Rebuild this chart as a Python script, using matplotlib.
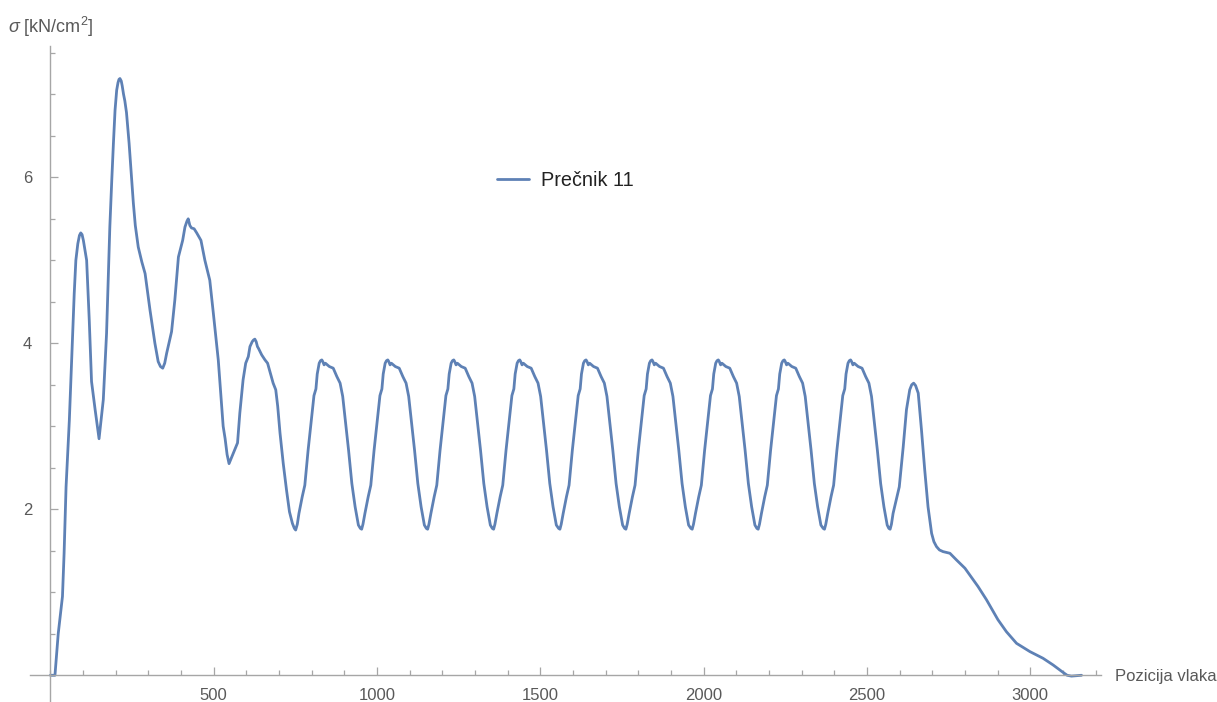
import matplotlib
matplotlib.use("Agg")
import matplotlib.pyplot as plt
from matplotlib.ticker import MultipleLocator, FixedLocator

plt.rcParams['font.family'] = ['Liberation Sans', 'DejaVu Sans']
plt.rcParams['mathtext.fontset'] = 'custom'
plt.rcParams['mathtext.rm'] = 'Liberation Sans'
plt.rcParams['mathtext.it'] = 'Liberation Sans:italic'

# Stress along the train position
pozicija = [
    0, 14, 24, 37, 42, 48, 53, 58, 67, 73, 78, 84, 89, 93, 97, 101, 111, 119, 126, 137, 149,
    162, 172, 182, 188, 193, 198, 203, 207, 210, 213, 217, 220, 224, 228, 233, 241, 249, 254, 260, 269,
    280, 290, 305, 320, 330, 337, 344, 350, 356, 371, 381, 392, 405, 412, 418, 422, 427, 432, 440,
    448, 461, 473, 488, 499, 514, 529, 535, 541, 547, 560, 573, 580, 590, 598, 606, 611,
    618, 622, 626, 630, 634, 637, 647, 657, 665, 672, 682, 690, 696, 703, 713, 723, 732, 741,
    747, 751, 756, 761, 771, 779, 789, 800, 807, 813, 817, 823, 827, 831, 834, 838, 842, 854, 866, 877,
    887, 895, 902, 913, 923, 933, 943, 949,
    953, 957, 963, 973, 981, 991, 1002, 1009, 1015, 1019, 1025, 1029, 1033, 1036, 1040, 1044, 1056,
    1068, 1079, 1089, 1097, 1104, 1115, 1125, 1135, 1145, 1151,
    1155, 1159, 1165, 1175, 1183, 1193, 1204, 1211, 1217, 1221, 1227, 1231, 1235, 1238, 1242, 1246,
    1258, 1270, 1281, 1291, 1299, 1306, 1317, 1327, 1337, 1347, 1353,
    1357, 1361, 1367, 1377, 1385, 1395, 1406, 1413, 1419, 1423, 1429, 1433, 1437, 1440, 1444, 1448,
    1460, 1472, 1483, 1493, 1501, 1508, 1519, 1529, 1539, 1549, 1556,
    1560, 1564, 1570, 1580, 1588, 1598, 1609, 1616, 1622, 1626, 1632, 1636, 1640, 1643, 1647, 1651,
    1663, 1675, 1686, 1696, 1704, 1711, 1722, 1732, 1742, 1752, 1758,
    1762, 1766, 1772, 1782, 1790, 1800, 1811, 1818, 1824, 1828, 1834, 1838, 1842, 1845, 1849, 1853,
    1865, 1877, 1888, 1898, 1906, 1913, 1924, 1934, 1944, 1954, 1961,
    1965, 1969, 1975, 1985, 1993, 2003, 2014, 2021, 2027, 2031, 2037, 2041, 2045, 2048, 2052, 2056,
    2068, 2080, 2091, 2101, 2109, 2116, 2127, 2137, 2147, 2157, 2163,
    2167, 2171, 2177, 2187, 2195, 2205, 2216, 2223, 2229, 2233, 2239, 2243, 2247, 2250, 2254, 2258,
    2270, 2282, 2293, 2303, 2311, 2318, 2329, 2339, 2349, 2359, 2366,
    2370, 2374, 2380, 2390, 2398, 2408, 2419, 2426, 2432, 2436, 2442, 2446, 2450, 2453, 2457, 2461,
    2473, 2485, 2496, 2506, 2514, 2521, 2532, 2542, 2552, 2562, 2567,
    2571, 2575, 2580, 2599, 2611, 2621, 2631, 2637, 2643, 2649, 2657, 2667, 2677, 2687, 2698, 2705, 2713,
    2722, 2733, 2754, 2774, 2800, 2840, 2866, 2901, 2927, 2958, 2999, 3039, 3070, 3100,
    3113, 3126, 3157,
]
sigma = [
    0.00, 0.00, 0.50, 0.95, 1.47, 2.27, 2.67, 3.07, 4.00, 4.60, 5.00, 5.20, 5.30, 5.33, 5.31, 5.24, 5.00, 4.28, 3.54, 3.20, 2.85,
    3.32, 4.12, 5.40, 5.97, 6.41, 6.81, 7.05, 7.14, 7.18, 7.19, 7.16, 7.10, 7.00, 6.92, 6.78, 6.41, 5.97, 5.69, 5.42, 5.16,
    4.98, 4.84, 4.40, 4.00, 3.78, 3.72, 3.70, 3.76, 3.88, 4.14, 4.52, 5.04, 5.24, 5.40, 5.47, 5.50, 5.42, 5.39, 5.38,
    5.33, 5.24, 5.00, 4.76, 4.36, 3.80, 3.00, 2.85, 2.66, 2.55, 2.675, 2.80, 3.16, 3.56, 3.76, 3.84, 3.96,
    4.02, 4.04, 4.05, 4.02, 3.96, 3.94, 3.86, 3.80, 3.76, 3.66, 3.52, 3.44, 3.24, 2.92, 2.55, 2.23, 1.97, 1.83,
    1.77, 1.75, 1.82, 1.95, 2.15, 2.29, 2.71, 3.11, 3.37, 3.45, 3.63, 3.76, 3.79, 3.80, 3.78, 3.74, 3.76, 3.72, 3.70, 3.60,
    3.52, 3.36, 3.11, 2.71, 2.31, 2.03, 1.81, 1.77,
    1.76, 1.82, 1.95, 2.15, 2.29, 2.71, 3.11, 3.37, 3.45, 3.63, 3.76, 3.79, 3.80, 3.78, 3.74, 3.76, 3.72,
    3.70, 3.60, 3.52, 3.36, 3.11, 2.71, 2.31, 2.03, 1.81, 1.77,
    1.76, 1.82, 1.95, 2.15, 2.29, 2.71, 3.11, 3.37, 3.45, 3.63, 3.76, 3.79, 3.80, 3.78, 3.74, 3.76,
    3.72, 3.70, 3.60, 3.52, 3.36, 3.11, 2.71, 2.31, 2.03, 1.81, 1.77,
    1.76, 1.82, 1.95, 2.15, 2.29, 2.71, 3.11, 3.37, 3.45, 3.63, 3.76, 3.79, 3.80, 3.78, 3.74, 3.76,
    3.72, 3.70, 3.60, 3.52, 3.36, 3.11, 2.71, 2.31, 2.03, 1.81, 1.77,
    1.76, 1.82, 1.95, 2.15, 2.29, 2.71, 3.11, 3.37, 3.45, 3.63, 3.76, 3.79, 3.80, 3.78, 3.74, 3.76,
    3.72, 3.70, 3.60, 3.52, 3.36, 3.11, 2.71, 2.31, 2.03, 1.81, 1.77,
    1.76, 1.82, 1.95, 2.15, 2.29, 2.71, 3.11, 3.37, 3.45, 3.63, 3.76, 3.79, 3.80, 3.78, 3.74, 3.76,
    3.72, 3.70, 3.60, 3.52, 3.36, 3.11, 2.71, 2.31, 2.03, 1.81, 1.77,
    1.76, 1.82, 1.95, 2.15, 2.29, 2.71, 3.11, 3.37, 3.45, 3.63, 3.76, 3.79, 3.80, 3.78, 3.74, 3.76,
    3.72, 3.70, 3.60, 3.52, 3.36, 3.11, 2.71, 2.31, 2.03, 1.81, 1.77,
    1.76, 1.82, 1.95, 2.15, 2.29, 2.71, 3.11, 3.37, 3.45, 3.63, 3.76, 3.79, 3.80, 3.78, 3.74, 3.76,
    3.72, 3.70, 3.60, 3.52, 3.36, 3.11, 2.71, 2.31, 2.03, 1.81, 1.77,
    1.76, 1.82, 1.95, 2.15, 2.29, 2.71, 3.11, 3.37, 3.45, 3.63, 3.76, 3.79, 3.80, 3.78, 3.74, 3.76,
    3.72, 3.70, 3.60, 3.52, 3.36, 3.11, 2.71, 2.31, 2.03, 1.81, 1.77,
    1.76, 1.82, 1.95, 2.27, 2.75, 3.20, 3.44, 3.50, 3.52, 3.49, 3.40, 2.955, 2.47, 2.03, 1.71, 1.61, 1.55,
    1.51, 1.49, 1.47, 1.39, 1.29, 1.07, 0.91, 0.67, 0.525, 0.385, 0.285, 0.205, 0.124, 0.036,
    0.00, -0.01, 0.00,
]

x_ticks = [500, 1000, 1500, 2000, 2500, 3000]
y_ticks = [2, 4, 6]
legend_label = "Prečnik 11"
x_label = "Pozicija vlaka"
y_label = r"$\it{\sigma}$ [kN/cm$^2$]"

line_color = "#5e81b5"
axis_color = "#a6a6a6"
text_color = "#595959"

W, H = 1217, 702
fig = plt.figure(figsize=(W / 100, H / 100), dpi=100)
ax = fig.add_axes([30 / W, 0.0, (1101 - 30) / W, (702 - 46) / H])

ax.plot(pozicija, sigma, color=line_color, lw=2.0, label=legend_label,
        solid_joinstyle='round', solid_capstyle='round')

ax.set_xlim(-62.4, 3216.6)
ax.set_ylim(-0.322, 7.582)

for s in ['top', 'right']:
    ax.spines[s].set_visible(False)
ax.spines['left'].set_position(('data', 0))
ax.spines['bottom'].set_position(('data', 0))
for s in ['left', 'bottom']:
    ax.spines[s].set_color(axis_color)
    ax.spines[s].set_linewidth(1.0)

ax.xaxis.set_major_locator(FixedLocator(x_ticks))
ax.xaxis.set_minor_locator(MultipleLocator(100))
ax.yaxis.set_major_locator(FixedLocator(y_ticks))
ax.yaxis.set_minor_locator(MultipleLocator(0.5))
ax.tick_params(which='both', direction='in', color=axis_color, width=0.9,
               labelsize=12, labelcolor=text_color)
ax.tick_params(which='major', length=5.5)
ax.tick_params(which='minor', length=3.5)
ax.tick_params(axis='x', which='major', pad=9)
ax.tick_params(axis='y', which='major', pad=13)

fig.text(1115 / W, 1 - 677 / H, x_label, fontsize=12, color=text_color,
         ha='left', va='center')
fig.text(8 / W, 1 - 27 / H, y_label, fontsize=13, color=text_color,
         ha='left', va='center')

ax.legend(loc='center left', bbox_to_anchor=(497 / W, 1 - 180 / H),
          bbox_transform=fig.transFigure, frameon=False, borderpad=0,
          borderaxespad=0, handlelength=1.6, handletextpad=0.6,
          prop={'size': 14.3}, labelcolor='#222222')

fig.savefig("out.png", dpi=100)
